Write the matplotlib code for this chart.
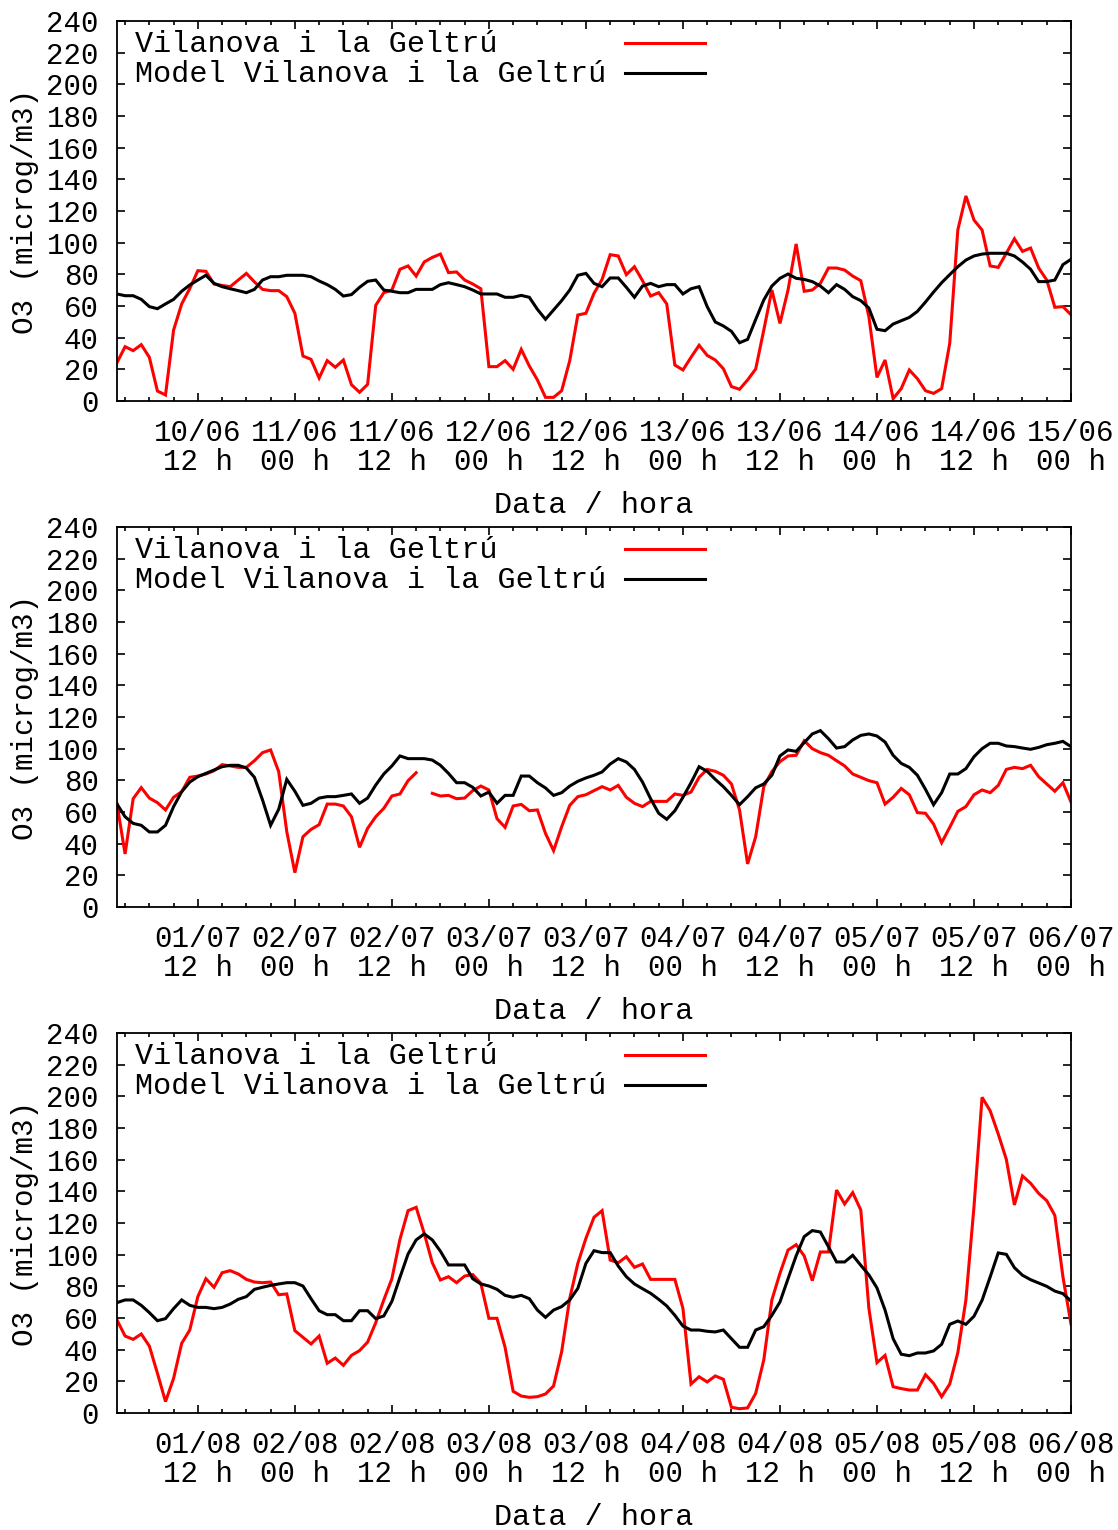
import numpy as np
import matplotlib
matplotlib.use("Agg")
import matplotlib.pyplot as plt
from matplotlib.ticker import FixedLocator, MultipleLocator

plt.rcParams['font.family'] = ['Liberation Mono', 'DejaVu Sans Mono']
FS = 21
FS_KEY = 21.7

# hours relative to 12 h of the first day
hours = np.arange(-10, 109)

tick_hours = [0, 12, 24, 36, 48, 60, 72, 84, 96, 108]

labels_jun = ["10/06\n12 h", "11/06\n00 h", "11/06\n12 h", "12/06\n00 h", "12/06\n12 h",
              "13/06\n00 h", "13/06\n12 h", "14/06\n00 h", "14/06\n12 h", "15/06\n00 h"]
labels_jul = ["01/07\n12 h", "02/07\n00 h", "02/07\n12 h", "03/07\n00 h", "03/07\n12 h",
              "04/07\n00 h", "04/07\n12 h", "05/07\n00 h", "05/07\n12 h", "06/07\n00 h"]
labels_aug = ["01/08\n12 h", "02/08\n00 h", "02/08\n12 h", "03/08\n00 h", "03/08\n12 h",
              "04/08\n00 h", "04/08\n12 h", "05/08\n00 h", "05/08\n12 h", "06/08\n00 h"]

obs_jun = [24.2, 34.3, 31.8, 35.6, 27.6, 6.3, 3.8, 44.8, 61.3, 71,
           82.3, 81.9, 73.9, 73, 72.2, 76.4, 80.6, 75.2, 70.5, 69.7,
           69.7, 65.9, 55.4, 28.4, 26.3, 14.5, 25.5, 21.3, 25.9, 10.3,
           5.5, 10.5, 60.4, 68.4, 70.1, 83.2, 85.3, 78.9, 87.8, 90.7,
           92.8, 81.1, 81.5, 76.4, 73.9, 70.9, 21.7, 21.7, 25.5, 20,
           32.6, 22.1, 13.3, 2.3, 2.3, 6.5, 25.5, 54.3, 55.4, 68,
           76.8, 92.4, 91.6, 79.8, 84.8, 76, 66.3, 68.4, 61.3, 22.7,
           19.6, 27.6, 35.2, 28.8, 25.9, 20.4, 9.1, 7.4, 13.3, 20.2,
           44.8, 70.1, 49, 70.1, 99.2, 69.3, 70.1, 74.3, 84, 84,
           82.7, 78.9, 76, 53.3, 14.9, 25.9, 1.5, 7.8, 19.6, 14.1,
           6.5, 4.8, 7.8, 36.4, 108, 129.5, 114.3, 108, 85.3, 84.4,
           93.3, 102.5, 94.5, 96.6, 84, 76.4, 59.2, 59.6, 54.5]

mod_jun = [67.6, 66.5, 66.5, 64.2, 59.6, 58.3, 61.3, 64.2, 69.3, 73.3,
           76.4, 79.4, 74.3, 72.2, 70.9, 69.7, 68.4, 70.5, 76.4, 78.5,
           78.5, 79.4, 79.4, 79.4, 78.5, 75.8, 73.5, 70.5, 66.3, 67.2,
           71.8, 75.6, 76.4, 70.1, 69.3, 68.4, 68.4, 70.5, 70.5, 70.5,
           73.5, 74.7, 73.5, 72.2, 70.1, 67.6, 67.6, 67.6, 65.5, 65.5,
           66.7, 65.5, 57.9, 51.6, 57.5, 63.4, 70.1, 79.4, 80.6, 74.3,
           72.2, 77.7, 77.7, 71.8, 65.5, 72.6, 74.3, 72.2, 73.5, 73.5,
           67.6, 70.9, 72.2, 59.6, 49.9, 47.4, 44, 36.8, 38.9, 51.5,
           63.8, 72.6, 77.5, 80.2, 77.5, 76.8, 75.4, 72.6, 68.4, 73.5,
           70.5, 65.9, 63.4, 58.7, 45.3, 44.4, 48.6, 50.7, 52.8, 56.6,
           62.5, 68.8, 74.7, 79.8, 84.8, 89, 91.6, 92.8, 93.3, 93.3,
           93.3, 91.6, 87.8, 83.2, 75.4, 75.4, 76.4, 86.1, 89.5]

obs_jul = [65, 33.5, 68.4, 75.4, 68.8, 65.9, 61.3, 69.3, 72.8, 81.9,
           82.7, 84, 86.1, 89.9, 89.1, 88.2, 88.2, 92.4, 97.5, 99.2,
           85.5, 47.6, 21.7, 44.4, 49, 52, 65, 65, 63.8, 57,
           37.7, 49.7, 57, 62.3, 70.1, 71.4, 79.8, 84.8, np.nan, 71.8,
           70.1, 70.5, 68.4, 68.8, 73.5, 76.4, 73.9, 55.8, 50.3, 63.8,
           64.8, 60.8, 61.3, 46.5, 35.6, 50.7, 64.2, 69.7, 70.9, 73.5,
           76, 73.9, 76.8, 69.3, 65.5, 63.4, 66.7, 66.7, 66.7, 71.4,
           70.5, 72.6, 81.9, 86.9, 85.7, 83.2, 77.7, 61.3, 27.2, 44.4,
           76, 85.5, 91.8, 95.4, 95.8, 105, 100, 97.5, 95.8, 92.4,
           89.1, 84, 81.9, 79.8, 78.5, 65, 69.3, 74.9, 70.9, 59.6,
           59.2, 52.4, 40.6, 50.3, 60.4, 63.4, 70.9, 73.9, 72.2, 76.8,
           86.9, 88.2, 87.4, 89.5, 82.3, 77.7, 73.1, 78.5, 66.3]

mod_jul = [65, 57, 52.8, 51.6, 47.4, 47.4, 51.6, 63.4, 72.8, 78.9,
           82.3, 84.4, 86.5, 88.6, 89.5, 89.5, 87.8, 81.9, 67.6, 51.6,
           61.7, 80.6, 73.1, 64.2, 65.5, 68.8, 69.7, 69.7, 70.5, 71.4,
           65.5, 68.8, 77, 84, 89.1, 95.4, 93.7, 93.7, 93.7, 92.8,
           89.5, 84.4, 78.5, 78.5, 75.6, 70.1, 72.6, 65.5, 70.5, 70.5,
           82.7, 82.7, 78.5, 75.2, 70.5, 72.2, 76.4, 79.4, 81.5, 83.2,
           85.3, 90.3, 93.7, 91.6, 86.9, 78.9, 68.4, 59.2, 55.4, 60.8,
           69.3, 78.5, 88.6, 85.7, 80.6, 76, 70.5, 64.6, 69.7, 75.3,
           77.7, 83.2, 95.4, 99.2, 98.3, 103.8, 109.3, 111.4, 106.3, 100.4,
           101.3, 105.5, 108.4, 109.3, 108, 104.2, 95.8, 90.7, 88.2, 83.2,
           74.3, 64.6, 72.2, 84, 84, 87.4, 94.9, 100, 103.4, 103.4,
           101.7, 101.3, 100.4, 99.6, 100.8, 102.5, 103.4, 104.6, 101.3]

obs_aug = [58.7, 48.6, 46.5, 49.9, 42.3, 25.1, 7.2, 21.9, 44, 52.4,
           73.5, 84.8, 79.4, 88.6, 89.9, 87.8, 84.4, 82.7, 82.3, 82.7,
           74.7, 75.2, 52, 47.8, 43.6, 48.6, 31.4, 34.7, 30.1, 36.4,
           39.4, 44.8, 57, 71.4, 84.8, 109.7, 127.8, 129.9, 113.5, 94.9,
           84, 86.1, 82.3, 86.5, 87.4, 81.9, 59.8, 59.8, 41.5, 13.7,
           10.7, 9.9, 10.3, 12, 17.1, 38.7, 72.4, 94.5, 110.3, 123.6,
           127.8, 96.6, 94.9, 98.7, 92, 94.1, 84.4, 84.4, 84.4, 84.4,
           66.1, 18.3, 22.9, 19.6, 23.4, 21.3, 3.6, 2.7, 3.2, 12.4,
           33.5, 71.4, 88.2, 102.9, 106.3, 99.2, 83.6, 101.7, 101.7, 140.8,
           132, 139.2, 128.2, 66.1, 31.8, 36.4, 16.6, 15.4, 14.5, 14.5,
           24.2, 18.7, 10.3, 18.3, 38.1, 71.4, 130.3, 199.4, 190.9, 176.2,
           160.2, 131.4, 149.7, 145.1, 138.7, 134.1, 124.8, 86.1, 56.2]

mod_aug = [69.7, 71.4, 71.4, 68, 63.4, 58.3, 59.6, 65.9, 71.4, 68,
           66.7, 66.7, 65.9, 66.7, 68.8, 71.8, 73.5, 78.1, 79.4, 80.6,
           81.5, 82.3, 82.3, 80.2, 72.2, 64.6, 62.1, 62.1, 58.3, 58.3,
           64.6, 64.6, 59.6, 61.3, 70.5, 85.7, 100.4, 109.3, 113.1, 109.3,
           102.2, 93.5, 93.5, 93.5, 84.8, 81.5, 80.2, 78.1, 74.3, 73.1,
           74.3, 72.2, 65, 60.4, 65, 67.2, 71.4, 78.7, 94.5, 102.5,
           101.3, 101.3, 92.8, 86.1, 81.5, 78.5, 75.6, 71.8, 67.6, 61.7,
           54.9, 52.4, 52.4, 51.6, 51.2, 52.4, 46.9, 41.5, 41.5, 52.4,
           54.5, 61.7, 70.1, 84.8, 99.2, 111.4, 115.2, 114.3, 105, 95.4,
           95.4, 99.6, 93.3, 87.2, 79, 65, 46.9, 37.1, 36.2, 37.9,
           37.9, 39.2, 43.4, 56, 58.1, 56, 61.1, 71.2, 85.9, 101.1,
           100.2, 91.8, 87, 84.2, 82.1, 80, 77, 75.4, 70.7]

yticks = list(range(0, 241, 20))
label_obs = "Vilanova i la Geltrú"
label_mod = "Model Vilanova i la Geltrú"

fig = plt.figure(figsize=(11.18, 15.30), dpi=100)

W, H = 1118.0, 1530.0
left_px, right_px = 117, 1071
tops = [21, 527, 1033]
hgt = 380

panels = [(obs_jun, mod_jun, labels_jun),
          (obs_jul, mod_jul, labels_jul),
          (obs_aug, mod_aug, labels_aug)]

for top, (obs, mod, xl) in zip(tops, panels):
    ax = fig.add_axes([left_px / W, 1 - (top + hgt) / H, (right_px - left_px) / W, hgt / H])
    ax.plot(hours, obs, color='#ff0000', lw=2.2, solid_joinstyle='miter')
    ax.plot(hours, mod, color='#000000', lw=2.2, solid_joinstyle='miter')
    ax.set_xlim(-10, 108)
    ax.set_ylim(0, 240)
    ax.xaxis.set_major_locator(FixedLocator(tick_hours))
    ax.xaxis.set_minor_locator(MultipleLocator(3))
    ax.set_xticklabels(xl, fontsize=FS, linespacing=1.05)
    ax.set_yticks(yticks)
    ax.set_yticklabels([str(v) for v in yticks], fontsize=FS)
    ax.tick_params(axis='both', which='major', direction='in', length=6, width=1.2,
                   top=True, right=True)
    ax.tick_params(axis='x', which='minor', direction='in', length=3, width=1.2,
                   top=True, bottom=True)
    ax.tick_params(axis='y', which='major', pad=13)
    ax.tick_params(axis='x', which='major', pad=13)
    for s in ax.spines.values():
        s.set_linewidth(1.3)
    ax.set_xlabel("Data / hora", fontsize=FS_KEY, va='center')
    ax.xaxis.set_label_coords(0.5, -0.274)
    ax.set_ylabel("O3 (microg/m3)", fontsize=FS, va='center')
    ax.yaxis.set_label_coords(-0.0964, 0.5)

    # key
    for yk, txt, col in [(0.939, label_obs, '#ff0000'), (0.860, label_mod, '#000000')]:
        ax.text(0.0189, yk, txt, transform=ax.transAxes, fontsize=FS_KEY, va='center', ha='left')
        ax.plot([0.5325, 0.6164], [yk + 0.004, yk + 0.004], transform=ax.transAxes,
                color=col, lw=2.2, clip_on=False)

fig.savefig("out.png", dpi=100)
